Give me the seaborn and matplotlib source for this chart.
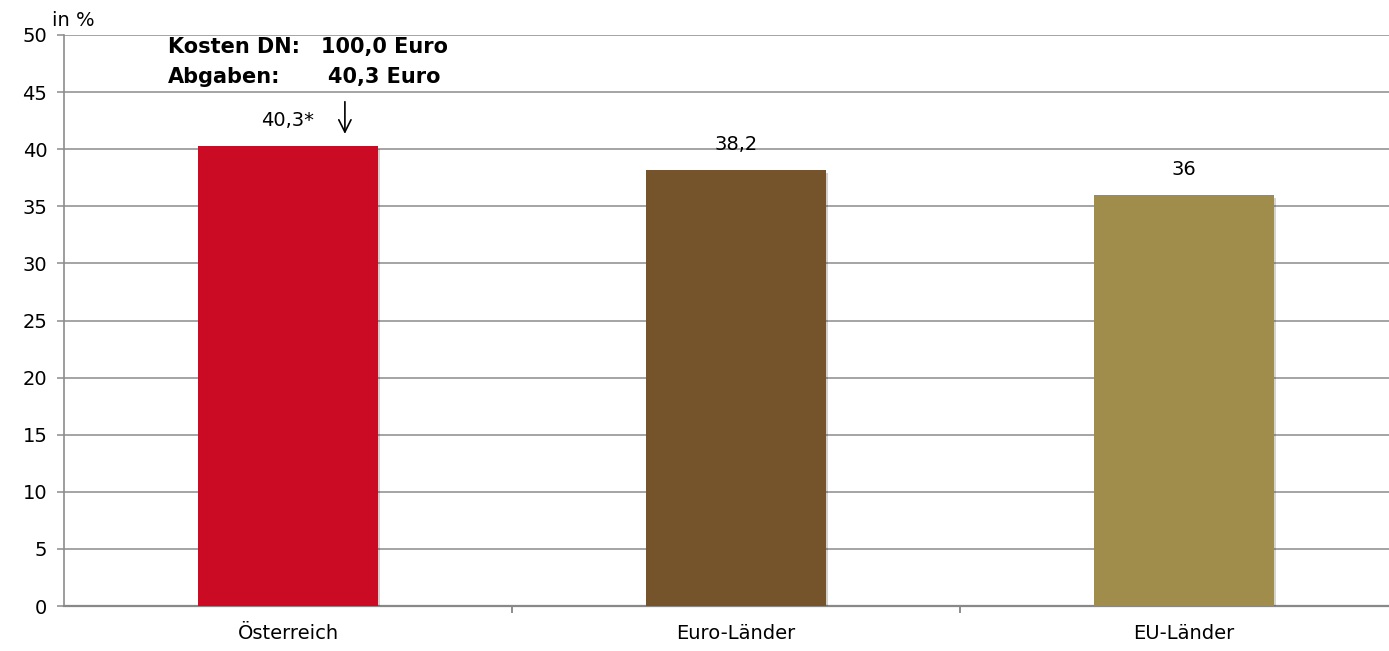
import numpy as np
import pandas as pd
import matplotlib
matplotlib.use("Agg")
import matplotlib.pyplot as plt
import matplotlib.patheffects as pe
import seaborn as sns

# Daten
laender = ["Österreich", "Euro-Länder", "EU-Länder"]
abgaben = [40.3, 38.2, 36.0]
labels = ["40,3*", "38,2", "36"]
farben = ["#CB0A23", "#75532B", "#A08C4B"]

df = pd.DataFrame({"land": laender, "wert": abgaben})

sns.set_style("white")
plt.rcParams["font.family"] = ["DejaVu Sans"]
plt.rcParams["text.color"] = "black"
plt.rcParams["xtick.color"] = "black"
plt.rcParams["ytick.color"] = "black"

fs = 14
fb = 15

fig = plt.figure(figsize=(13.89, 6.51), dpi=100)
ax = fig.add_axes([64 / 1389, 45 / 651, 1344 / 1389, 571 / 651])

sns.barplot(data=df, x="land", y="wert", hue="land", palette=farben,
            width=0.40, saturation=1, legend=False, ax=ax, zorder=3,
            linewidth=0)

for p in ax.patches:
    p.set_path_effects([pe.SimplePatchShadow(offset=(2, -2), alpha=0.2), pe.Normal()])

ax.set_ylim(0, 50)
ax.set_xlim(-0.5, 2.5)
ax.set_yticks(np.arange(0, 51, 5))
ax.yaxis.grid(True, color="#8c8c8c", linewidth=1.1, zorder=0)
ax.set_axisbelow(True)

for s in ["top", "right"]:
    ax.spines[s].set_visible(False)
ax.spines["left"].set_color("#8c8c8c")
ax.spines["left"].set_linewidth(1.2)
ax.spines["bottom"].set_color("#888888")
ax.spines["bottom"].set_linewidth(1.6)

ax.tick_params(axis="y", labelsize=fs, length=5, width=1.1, color="#8c8c8c",
               labelcolor="black", direction="out", left=True, pad=7)
ax.set_xticks([0, 1, 2])
ax.set_xticklabels(laender)
ax.set_xticks([0.5, 1.5], minor=True)
ax.tick_params(axis="x", which="major", labelsize=fs, length=0, pad=13,
               labelcolor="black")
ax.tick_params(axis="x", which="minor", length=5, width=1.4, color="#8c8c8c",
               direction="out", bottom=True)
ax.set_xlabel("")
ax.set_ylabel("")

for i, (v, t) in enumerate(zip(abgaben, labels)):
    ax.annotate(t, (i, v), xytext=(0, 18), textcoords="offset points",
                ha="center", va="center", fontsize=fs, color="black")

# Hinweis oben
ax.text(-0.268, 48.95, "Kosten DN:", fontsize=fb, fontweight="bold", ha="left", va="center")
ax.text(0.357, 48.95, "100,0 Euro", fontsize=fb, fontweight="bold", ha="right", va="center")
ax.text(-0.268, 46.3, "Abgaben:", fontsize=fb, fontweight="bold", ha="left", va="center")
ax.text(0.34, 46.3, "40,3 Euro", fontsize=fb, fontweight="bold", ha="right", va="center")
ax.annotate("", xy=(0.127, 41.1), xytext=(0.127, 44.4),
            arrowprops=dict(arrowstyle="->", color="black", lw=1.2, mutation_scale=22))

fig.text(52 / 1389, 1 - 20 / 651, "in %", fontsize=fs, ha="left", va="center")

fig.savefig("out.png", dpi=100)
